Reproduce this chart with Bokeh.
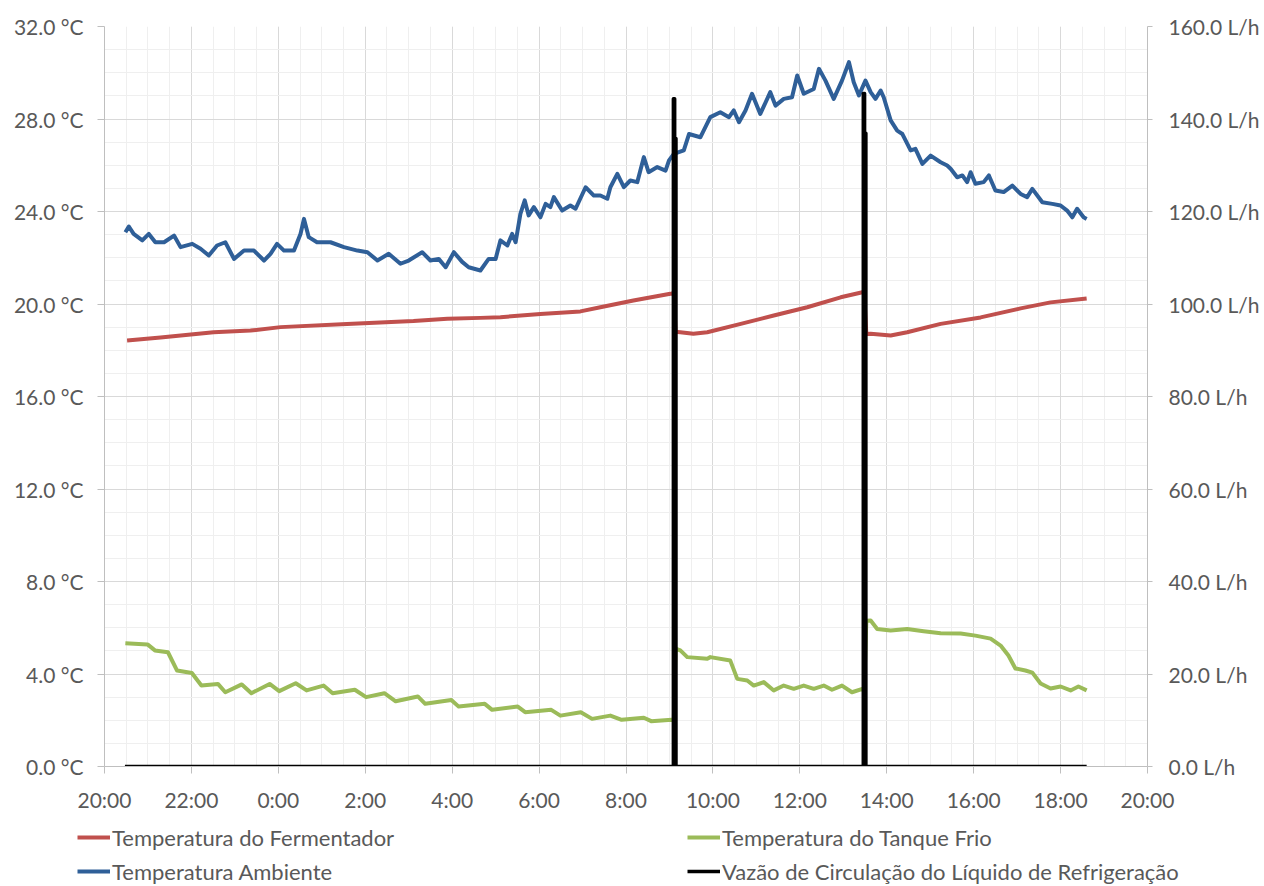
from bokeh.plotting import figure
from bokeh.layouts import column, row
from bokeh.models import (Range1d, LinearAxis, FixedTicker, PrintfTickFormatter,
                          Legend, LegendItem)
from bokeh.embed import file_html
from bokeh.resources import INLINE

# ---------------- data (hours after 20:00) ----------------
x_tick_pos = [0, 2, 4, 6, 8, 10, 12, 14, 16, 18, 20, 22, 24]
x_tick_labels = ["20:00", "22:00", "0:00", "2:00", "4:00", "6:00", "8:00",
                 "10:00", "12:00", "14:00", "16:00", "18:00", "20:00"]

amb_h = [0.48, 0.56, 0.67, 0.87, 1.02, 1.17, 1.37, 1.60, 1.75, 2.02, 2.21, 2.40,
         2.59, 2.78, 2.98, 3.21, 3.44, 3.67, 3.82, 3.97, 4.13, 4.36, 4.51, 4.59,
         4.70, 4.89, 5.20, 5.51, 5.82, 6.05, 6.28, 6.54, 6.81, 7.00, 7.31, 7.50,
         7.69, 7.85, 8.04, 8.23, 8.38, 8.65, 8.84, 9.00, 9.11, 9.27, 9.38, 9.46,
         9.57, 9.67, 9.76, 9.88, 10.03, 10.15, 10.26, 10.34, 10.53, 10.72, 10.84,
         11.07, 11.26, 11.41, 11.57, 11.64, 11.80, 11.95, 12.10, 12.26, 12.33,
         12.41, 12.52, 12.72, 12.91, 12.99, 13.10, 13.33, 13.45, 13.71, 13.94,
         14.17, 14.37, 14.48, 14.60, 14.75, 14.90, 15.09, 15.32, 15.44, 15.63,
         15.82, 15.94, 16.09, 16.32, 16.44, 16.59, 16.78, 16.97, 17.13, 17.24,
         17.36, 17.51, 17.63, 17.74, 17.86, 17.93, 18.09, 18.24, 18.36, 18.55,
         18.66, 18.82, 19.01, 19.24, 19.39, 19.47, 19.62, 19.74, 19.85, 19.93,
         20.04, 20.23, 20.35, 20.50, 20.69, 20.89, 21.08, 21.23, 21.35, 21.58,
         21.81, 22.00, 22.15, 22.27, 22.38, 22.53, 22.60]
amb_t = [23.10, 23.35, 23.03, 22.75, 23.03, 22.67, 22.67, 22.96, 22.46, 22.60, 22.39, 22.10,
         22.53, 22.67, 21.95, 22.31, 22.31, 21.88, 22.17, 22.60, 22.31, 22.31, 23.03, 23.68,
         22.89, 22.67, 22.67, 22.46, 22.31, 22.24, 21.88, 22.17, 21.74, 21.88, 22.24, 21.88,
         21.95, 21.59, 22.24, 21.82, 21.59, 21.45, 21.95, 21.95, 22.75, 22.53, 23.03, 22.67,
         23.90, 24.48, 23.83, 24.19, 23.75, 24.33, 24.19, 24.62, 24.04, 24.26, 24.12,
         25.05, 24.69, 24.69, 24.55, 25.05, 25.63, 25.05, 25.34, 25.27, 25.77,
         26.35, 25.70, 25.92, 25.77, 26.21, 26.49, 26.64, 27.35, 27.21, 28.08,
         28.29, 28.08, 28.37, 27.86, 28.37, 29.09, 28.22, 29.16, 28.58, 28.87,
         28.94, 29.88, 29.09, 29.30, 30.17, 29.66, 28.87, 29.66, 30.46, 29.59,
         29.02, 29.66, 29.16, 28.87, 29.23, 28.94, 27.94, 27.50, 27.35, 26.64,
         26.71, 26.06, 26.42, 26.13, 25.99, 25.85, 25.48, 25.56, 25.27, 25.70,
         25.20, 25.27, 25.56, 24.91, 24.84, 25.12, 24.76, 24.62, 24.98, 24.40,
         24.33, 24.26, 24.04, 23.75, 24.12, 23.75, 23.68]

ferm_h = [0.52, 1.29, 2.51, 3.36, 4.05, 5.58, 7.11, 7.89, 8.65, 9.11, 10.03, 10.95,
          11.41, 12.17, 13.02, 13.10, 13.14, 13.25, 13.55, 13.87, 14.64, 15.40,
          16.17, 16.94, 17.44, 17.48, 17.53, 17.63, 18.09, 18.47, 19.24, 20.16,
          21.08, 21.77, 22.60]
ferm_t = [18.42, 18.55, 18.78, 18.85, 19.00, 19.14, 19.26, 19.36, 19.40, 19.43, 19.57, 19.68,
          19.86, 20.15, 20.44, 20.48, 18.80, 18.78, 18.71, 18.78, 19.14, 19.50,
          19.86, 20.29, 20.51, 20.50, 18.70, 18.71, 18.64, 18.78, 19.14, 19.42,
          19.81, 20.07, 20.24]

tank_h = [0.48, 0.99, 1.16, 1.46, 1.67, 2.01, 2.23, 2.61, 2.78, 3.16, 3.38, 3.80,
          4.02, 4.40, 4.65, 5.04, 5.25, 5.76, 6.02, 6.44, 6.70, 7.21, 7.38, 7.98,
          8.15, 8.75, 8.92, 9.51, 9.68, 10.28, 10.49, 10.96, 11.22, 11.64, 11.90,
          12.41, 12.58, 13.05, 13.10, 13.14, 13.25, 13.41, 13.87, 13.94, 14.40,
          14.56, 14.79, 14.94, 15.17, 15.40, 15.63, 15.86, 16.09, 16.32, 16.55,
          16.74, 16.97, 17.20, 17.44, 17.48, 17.53, 17.63, 17.78, 18.09, 18.47,
          18.85, 19.24, 19.70, 20.04, 20.39, 20.62, 20.80, 20.96, 21.19, 21.35,
          21.54, 21.77, 22.00, 22.23, 22.41, 22.60]
tank_t = [5.33, 5.28, 5.02, 4.94, 4.15, 4.04, 3.50, 3.57, 3.21, 3.55, 3.17, 3.57,
          3.26, 3.60, 3.29, 3.50, 3.17, 3.32, 3.00, 3.17, 2.82, 3.03, 2.71, 2.88,
          2.59, 2.71, 2.45, 2.59, 2.35, 2.45, 2.20, 2.35, 2.06, 2.20, 2.02,
          2.11, 1.96, 2.02, 2.00, 5.10, 5.02, 4.73, 4.66, 4.73, 4.58,
          3.79, 3.72, 3.50, 3.65, 3.29, 3.50, 3.36, 3.50, 3.36, 3.50,
          3.32, 3.50, 3.21, 3.36, 3.30, 6.30, 6.31, 5.95, 5.88, 5.95,
          5.85, 5.76, 5.75, 5.66, 5.53, 5.23, 4.80, 4.24, 4.15, 4.06,
          3.59, 3.37, 3.46, 3.29, 3.46, 3.29]

flow_h = [0.47, 13.09, 13.09, 13.12, 13.12, 13.15, 13.15, 17.46, 17.46, 17.49, 17.49,
          17.52, 17.52, 22.60]
flow_v = [0, 0, 144.4, 144.4, 135.8, 135.8, 0, 0, 145.5, 145.5, 136.9, 136.9, 0, 0]

names = ["Temperatura do Fermentador", "Temperatura Ambiente",
         "Temperatura do Tanque Frio", "Vazão de Circulação do Líquido de Refrigeração"]
colors = ["#c0504d", "#2f5f98", "#9bbb59", "#000000"]
widths = [4, 4, 4, 3.5]
series = [(ferm_h, ferm_t), (amb_h, amb_t), (tank_h, tank_t), (flow_h, flow_v)]

# ---------------- main figure ----------------
FONT = "Lato"
TXT = "#595959"
AX = "#bfbfbf"
FS = "21px"

p = figure(width=1264, height=816, output_backend="svg", toolbar_location=None,
           x_range=Range1d(0, 24), y_range=Range1d(0, 32),
           min_border_left=104, min_border_right=117, min_border_top=26,
           min_border_bottom=50, background_fill_color="white",
           border_fill_color="white")
p.outline_line_color = None
p.extra_y_ranges = {"flow": Range1d(0, 160)}

for i, (hx, vy) in enumerate(series):
    kw = {"y_range_name": "flow"} if i == 3 else {}
    p.line(hx, vy, line_color=colors[i], line_width=widths[i], line_join="round", **kw)

xax = p.xaxis[0]
xax.ticker = FixedTicker(ticks=x_tick_pos, minor_ticks=[i * 0.5 for i in range(49)])
xax.major_label_overrides = {pos: lab for pos, lab in zip(x_tick_pos, x_tick_labels)}
yax = p.yaxis[0]
yax.ticker = FixedTicker(ticks=list(range(0, 33, 4)), minor_ticks=list(range(0, 33)))
yax.formatter = PrintfTickFormatter(format="%.1f °C")

rax = LinearAxis(y_range_name="flow",
                 ticker=FixedTicker(ticks=list(range(0, 161, 20))),
                 formatter=PrintfTickFormatter(format="%.1f L/h"))
p.add_layout(rax, "right")

for ax, out in ((xax, 7), (yax, 7), (rax, 5)):
    ax.axis_line_color = AX
    ax.major_tick_line_color = AX
    ax.major_tick_out = out
    ax.major_tick_in = 0
    ax.minor_tick_line_color = None
    ax.major_label_text_font = FONT
    ax.major_label_text_font_size = FS
    ax.major_label_text_color = TXT
xax.major_label_standoff = 13
yax.major_label_standoff = 14
rax.major_label_standoff = 16

p.xgrid.grid_line_color = "#d9d9d9"
p.ygrid.grid_line_color = "#d9d9d9"
p.xgrid.minor_grid_line_color = "#efefef"
p.ygrid.minor_grid_line_color = "#efefef"

# ---------------- legend strip ----------------
# proxy renderers use the same series but sit outside this strip's ranges
lg = figure(width=1264, height=70, output_backend="svg", toolbar_location=None,
            x_range=Range1d(100, 101), y_range=Range1d(1000, 1001),
            min_border=0, min_border_left=0, min_border_right=0,
            min_border_top=0, min_border_bottom=0,
            background_fill_color="white", border_fill_color="white")
lg.axis.visible = False
lg.grid.visible = False
lg.outline_line_color = None
proxies = [lg.line(hx, vy, line_color=c, line_width=w)
           for (hx, vy), c, w in zip(series, colors, widths)]

legend = Legend(items=[LegendItem(label=n, renderers=[r]) for n, r in zip(names, proxies)],
                location=(77, 0), orientation="vertical", nrows=2,
                glyph_width=33, glyph_height=30, label_height=30,
                label_standoff=2, label_width=571, spacing=4,
                padding=0, margin=0, border_line_color=None,
                background_fill_alpha=0,
                label_text_font=FONT, label_text_font_size="22px",
                label_text_color=TXT)
lg.add_layout(legend)

layout = column(p, row(lg), spacing=0)
open("out.html", "w").write(file_html(layout, INLINE))
